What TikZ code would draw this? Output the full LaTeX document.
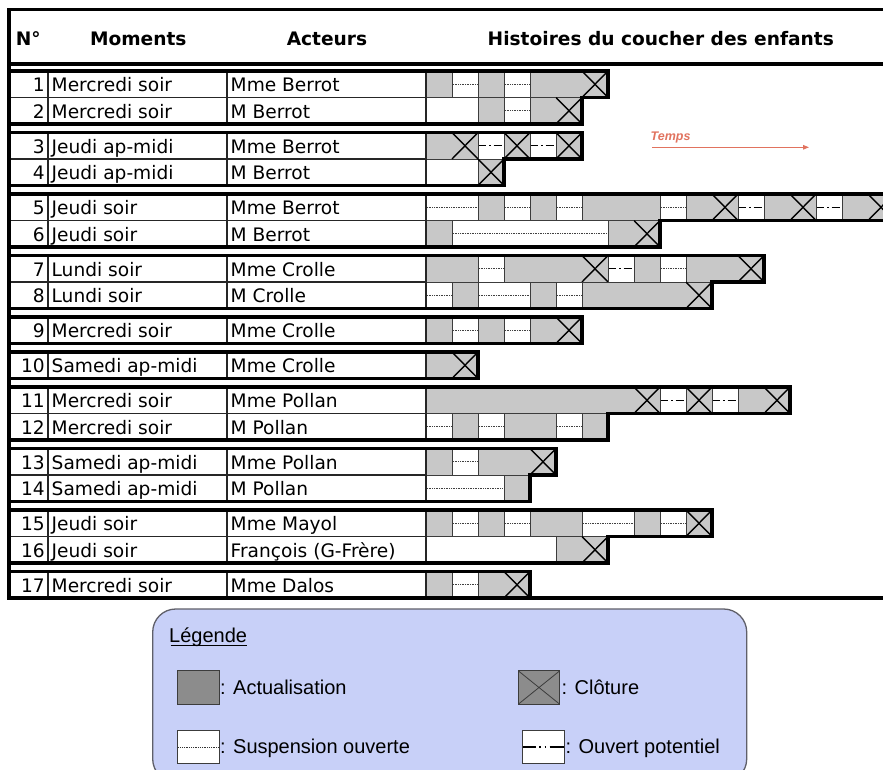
\documentclass[tikz,border=0pt]{standalone}
\usepackage{fontspec}
\setmainfont{DejaVu Sans}
\newfontfamily\legfont{Liberation Sans}
\usetikzlibrary{positioning,arrows.meta}

\definecolor{actugray}{RGB}{200,200,200}
\definecolor{cellline}{RGB}{60,60,60}
\definecolor{leggray}{RGB}{140,140,140}
\definecolor{legfill}{RGB}{200,208,248}
\definecolor{legline}{RGB}{95,95,105}
\definecolor{tempscol}{RGB}{225,115,95}

\tikzset{
  grpline/.style={line width=3.3pt, line cap=rect},
  thinline/.style={line width=1.4pt, draw=black!85},
  actu/.style={draw=cellline, fill=actugray, line width=1pt},
  susp/.style={draw=cellline, fill=white, line width=1pt,
    path picture={\draw[black!75, line width=0.7pt, densely dotted]
      ([xshift=1pt]path picture bounding box.west) -- ([xshift=-1pt]path picture bounding box.east);}},
  pot/.style={draw=cellline, fill=white, line width=1pt,
    path picture={\draw[black, line width=1.3pt, dash pattern=on 8pt off 3pt on 1.5pt off 3pt]
      (path picture bounding box.west) -- (path picture bounding box.east);}},
  cross/.style={line width=1.4pt, black},
  rowtxt/.style={font=\fontsize{18.6}{22}\selectfont, inner sep=0pt, anchor=base west},
  rownum/.style={rowtxt, anchor=base east},
  headtxt/.style={font=\fontsize{18.6}{22}\selectfont\bfseries, inner sep=0pt, anchor=base},
  legbox/.style={draw=legline, fill=legfill, line width=1.3pt, rounded corners=23pt},
  legtxt/.style={font=\legfont\fontsize{20}{24}\selectfont, inner sep=0pt, anchor=base west},
  legsq/.style={draw=cellline, line width=1pt, minimum width=41.7pt, minimum height=33.6pt, inner sep=0pt},
  tempstxt/.style={font=\legfont\fontsize{12.5}{15}\selectfont\bfseries\itshape, text=tempscol, inner sep=0pt, anchor=base west},
  tarrow/.style={draw=tempscol, line width=1.1pt, -{Triangle[length=6pt, width=4.5pt]}}
}

% one segment of a row: style, top of row, first cell, last cell
\newcommand{\seg}[4]{\path[#1] (#3,#2) rectangle ({#4+1},{#2+26.5});}
% closing cross in one cell: top of row, cell
\newcommand{\clo}[2]{\draw[cross] (#2,#1) -- ({#2+1},{#1+26.5}) (#2,{#1+26.5}) -- ({#2+1},#1);}

\begin{document}
\begin{tikzpicture}[x=1pt, y=-1pt]
    \useasboundingbox (0,0) rectangle (883,769);
    \clip (0,0) rectangle (883,769);

    %-----Histories (cells)-----
    \begin{scope}[shift={(426pt,0pt)}, x=26pt]
        % Row 1
        \seg{actu}{71}{0}{0} \seg{susp}{71}{1}{1} \seg{actu}{71}{2}{2} \seg{susp}{71}{3}{3} \seg{actu}{71}{4}{6} \clo{71}{6}
        % Row 2
        \seg{actu}{97.5}{2}{2} \seg{susp}{97.5}{3}{3} \seg{actu}{97.5}{4}{5} \clo{97.5}{5}
        % Row 3
        \seg{actu}{132.5}{0}{1} \clo{132.5}{1} \seg{pot}{132.5}{2}{2} \seg{actu}{132.5}{3}{3} \clo{132.5}{3}
        \seg{pot}{132.5}{4}{4} \seg{actu}{132.5}{5}{5} \clo{132.5}{5}
        % Row 4
        \seg{actu}{159}{2}{2} \clo{159}{2}
        % Row 5
        \seg{susp}{194}{0}{1} \seg{actu}{194}{2}{2} \seg{susp}{194}{3}{3} \seg{actu}{194}{4}{4} \seg{susp}{194}{5}{5}
        \seg{actu}{194}{6}{8} \seg{susp}{194}{9}{9} \seg{actu}{194}{10}{11} \clo{194}{11} \seg{pot}{194}{12}{12}
        \seg{actu}{194}{13}{14} \clo{194}{14} \seg{pot}{194}{15}{15} \seg{actu}{194}{16}{17} \clo{194}{17}
        % Row 6
        \seg{actu}{220.5}{0}{0} \seg{susp}{220.5}{1}{6} \seg{actu}{220.5}{7}{8} \clo{220.5}{8}
        % Row 7
        \seg{actu}{255.5}{0}{1} \seg{susp}{255.5}{2}{2} \seg{actu}{255.5}{3}{6} \clo{255.5}{6} \seg{pot}{255.5}{7}{7}
        \seg{actu}{255.5}{8}{8} \seg{susp}{255.5}{9}{9} \seg{actu}{255.5}{10}{12} \clo{255.5}{12}
        % Row 8
        \seg{susp}{282}{0}{0} \seg{actu}{282}{1}{1} \seg{susp}{282}{2}{3} \seg{actu}{282}{4}{4} \seg{susp}{282}{5}{5}
        \seg{actu}{282}{6}{10} \clo{282}{10}
        % Row 9
        \seg{actu}{317}{0}{0} \seg{susp}{317}{1}{1} \seg{actu}{317}{2}{2} \seg{susp}{317}{3}{3} \seg{actu}{317}{4}{5} \clo{317}{5}
        % Row 10
        \seg{actu}{352}{0}{1} \clo{352}{1}
        % Row 11
        \seg{actu}{387}{0}{8} \clo{387}{8} \seg{pot}{387}{9}{9} \seg{actu}{387}{10}{10} \clo{387}{10}
        \seg{pot}{387}{11}{11} \seg{actu}{387}{12}{13} \clo{387}{13}
        % Row 12
        \seg{susp}{413.5}{0}{0} \seg{actu}{413.5}{1}{1} \seg{susp}{413.5}{2}{2} \seg{actu}{413.5}{3}{4}
        \seg{susp}{413.5}{5}{5} \seg{actu}{413.5}{6}{6}
        % Row 13
        \seg{actu}{448.5}{0}{0} \seg{susp}{448.5}{1}{1} \seg{actu}{448.5}{2}{4} \clo{448.5}{4}
        % Row 14
        \seg{susp}{475}{0}{2} \seg{actu}{475}{3}{3}
        % Row 15
        \seg{actu}{510}{0}{0} \seg{susp}{510}{1}{1} \seg{actu}{510}{2}{2} \seg{susp}{510}{3}{3} \seg{actu}{510}{4}{5}
        \seg{susp}{510}{6}{7} \seg{actu}{510}{8}{8} \seg{susp}{510}{9}{9} \seg{actu}{510}{10}{10} \clo{510}{10}
        % Row 16
        \seg{actu}{536.5}{5}{6} \clo{536.5}{6}
        % Row 17
        \seg{actu}{571.5}{0}{0} \seg{susp}{571.5}{1}{1} \seg{actu}{571.5}{2}{3} \clo{571.5}{3}
    \end{scope}

    %-----Table lines-----
    % column lines inside each group
    \foreach \t/\b in {71/124, 132.5/185.5, 194/247, 255.5/308.5, 317/343.5, 352/378.5, 387/440, 448.5/501.5, 510/563, 571.5/598}
        \draw[thinline] (48,\t) -- (48,\b) (227,\t) -- (227,\b) (426,\t) -- (426,\b);
    % row lines inside the groups
    \foreach \m in {97.5, 159, 220.5, 282, 413.5, 475, 536.5}
        \draw[thinline] (9,\m) -- (426,\m);

    % frame and header
    \draw[grpline] (883,9.5) -- (9,9.5) -- (9,598) -- (883,598);
    \draw[grpline] (9,64) -- (883,64);

    % group outlines
    \draw[grpline] (9,71) -- (608,71) -- (608,97.5) -- (582,97.5) -- (582,124) -- (9,124);
    \draw[grpline] (9,132.5) -- (582,132.5) -- (582,159) -- (504,159) -- (504,185.5) -- (9,185.5);
    \draw[grpline] (9,194) -- (894,194) -- (894,220.5) -- (660,220.5) -- (660,247) -- (9,247);
    \draw[grpline] (9,255.5) -- (764,255.5) -- (764,282) -- (712,282) -- (712,308.5) -- (9,308.5);
    \draw[grpline] (9,317) -- (582,317) -- (582,343.5) -- (9,343.5);
    \draw[grpline] (9,352) -- (478,352) -- (478,378.5) -- (9,378.5);
    \draw[grpline] (9,387) -- (790,387) -- (790,413.5) -- (608,413.5) -- (608,440) -- (9,440);
    \draw[grpline] (9,448.5) -- (556,448.5) -- (556,475) -- (530,475) -- (530,501.5) -- (9,501.5);
    \draw[grpline] (9,510) -- (712,510) -- (712,536.5) -- (608,536.5) -- (608,563) -- (9,563);
    \draw[grpline] (9,571.5) -- (530,571.5) -- (530,598);

    %-----Header-----
    \node[headtxt, anchor=base west] (hnum) at (15.6,45) {N°};
    \node[headtxt] (hmom) at (138.3,45) {Moments};
    \node[headtxt] (hact) at (327,45) {Acteurs};
    \node[headtxt] (hist) at (660.8,45) {Histoires du coucher des enfants};

    %-----Rows-----
    \node[rownum] (n1) at (45,91.5) {1};   \node[rowtxt] (m1) at (51.5,91.5) {Mercredi soir};   \node[rowtxt] (a1) at (230.5,91.5) {Mme Berrot};
    \node[rownum] (n2) at (45,118) {2};    \node[rowtxt] (m2) at (51.5,118) {Mercredi soir};    \node[rowtxt] (a2) at (230.5,118) {M Berrot};
    \node[rownum] (n3) at (45,153) {3};    \node[rowtxt] (m3) at (51.5,153) {Jeudi ap-midi};    \node[rowtxt] (a3) at (230.5,153) {Mme Berrot};
    \node[rownum] (n4) at (45,179.5) {4};  \node[rowtxt] (m4) at (51.5,179.5) {Jeudi ap-midi};  \node[rowtxt] (a4) at (230.5,179.5) {M Berrot};
    \node[rownum] (n5) at (45,214.5) {5};  \node[rowtxt] (m5) at (51.5,214.5) {Jeudi soir};     \node[rowtxt] (a5) at (230.5,214.5) {Mme Berrot};
    \node[rownum] (n6) at (45,241) {6};    \node[rowtxt] (m6) at (51.5,241) {Jeudi soir};       \node[rowtxt] (a6) at (230.5,241) {M Berrot};
    \node[rownum] (n7) at (45,276) {7};    \node[rowtxt] (m7) at (51.5,276) {Lundi soir};       \node[rowtxt] (a7) at (230.5,276) {Mme Crolle};
    \node[rownum] (n8) at (45,302.5) {8};  \node[rowtxt] (m8) at (51.5,302.5) {Lundi soir};     \node[rowtxt] (a8) at (230.5,302.5) {M Crolle};
    \node[rownum] (n9) at (45,337.5) {9};  \node[rowtxt] (m9) at (51.5,337.5) {Mercredi soir};  \node[rowtxt] (a9) at (230.5,337.5) {Mme Crolle};
    \node[rownum] (n10) at (45,372.5) {10}; \node[rowtxt] (m10) at (51.5,372.5) {Samedi ap-midi}; \node[rowtxt] (a10) at (230.5,372.5) {Mme Crolle};
    \node[rownum] (n11) at (45,407.5) {11}; \node[rowtxt] (m11) at (51.5,407.5) {Mercredi soir}; \node[rowtxt] (a11) at (230.5,407.5) {Mme Pollan};
    \node[rownum] (n12) at (45,434) {12};   \node[rowtxt] (m12) at (51.5,434) {Mercredi soir};   \node[rowtxt] (a12) at (230.5,434) {M Pollan};
    \node[rownum] (n13) at (45,469) {13};   \node[rowtxt] (m13) at (51.5,469) {Samedi ap-midi};  \node[rowtxt] (a13) at (230.5,469) {Mme Pollan};
    \node[rownum] (n14) at (45,495.5) {14}; \node[rowtxt] (m14) at (51.5,495.5) {Samedi ap-midi}; \node[rowtxt] (a14) at (230.5,495.5) {M Pollan};
    \node[rownum] (n15) at (45,530.5) {15}; \node[rowtxt] (m15) at (51.5,530.5) {Jeudi soir};    \node[rowtxt] (a15) at (230.5,530.5) {Mme Mayol};
    \node[rownum] (n16) at (45,557) {16};   \node[rowtxt] (m16) at (51.5,557) {Jeudi soir};      \node[rowtxt] (a16) at (230.5,557) {François (G-Frère)};
    \node[rownum] (n17) at (45,592) {17};   \node[rowtxt] (m17) at (51.5,592) {Mercredi soir};   \node[rowtxt] (a17) at (230.5,592) {Mme Dalos};

    %-----Time arrow-----
    \node[tempstxt] (temps) at (650.5,140) {Temps};
    \coordinate (tstart) at (652,147.3);
    \coordinate (tend) at (809,147.3);
    \draw[tarrow] (tstart) -- (tend);

    %-----Legend-----
    \draw[legbox] (152.7,609) rectangle (746.7,782);
    \node[legtxt] (legtitle) at (169,642.3) {Légende};
    \draw[line width=1pt] ([xshift=1.5pt, yshift=-3.3pt]legtitle.base west) -- ([xshift=-0.5pt, yshift=-3.3pt]legtitle.base east);

    % Actualisation
    \node[legsq, fill=leggray] (lact) at (198.2,687.5) {};
    \node[legtxt] (tact) at (220,694.3) {: Actualisation};

    % Cloture
    \node[legsq, fill=leggray, path picture={\draw[cellline, line width=0.8pt]
        (path picture bounding box.north west) -- (path picture bounding box.south east)
        (path picture bounding box.south west) -- (path picture bounding box.north east);}] (lclo) at (539,687.5) {};
    \node[legtxt] (tclo) at (561.5,694.3) {: Clôture};

    % Suspension ouverte
    \node[legsq, fill=white, path picture={\draw[black!80, line width=0.8pt, densely dotted]
        ([xshift=1pt]path picture bounding box.west) -- ([xshift=-1pt]path picture bounding box.east);}] (lsusp) at (198.2,747) {};
    \node[legtxt] (tsusp) at (220,753.3) {: Suspension ouverte};

    % Ouvert potentiel
    \node[legsq, fill=white, path picture={\draw[black, line width=1.5pt,
        dash pattern=on 13pt off 3.5pt on 1.5pt off 4pt on 1.5pt off 3.5pt on 20pt]
        (path picture bounding box.west) -- (path picture bounding box.east);}] (lpot) at (543.5,747) {};
    \node[legtxt] (tpot) at (565.5,753.3) {: Ouvert potentiel};

\end{tikzpicture}
\end{document}
